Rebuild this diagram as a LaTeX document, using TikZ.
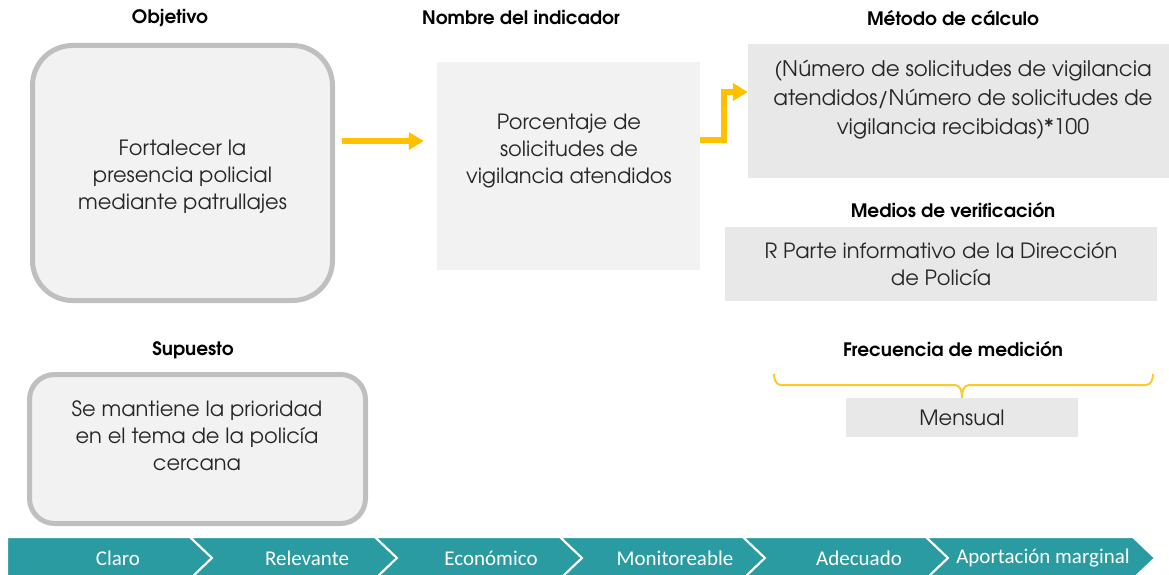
\documentclass[tikz,border=0pt]{standalone}
\usepackage{fontspec}
\setmainfont{TeX Gyre Adventor}
\newfontfamily\barfont{Carlito}
\usetikzlibrary{arrows.meta, positioning}
\definecolor{boxgray}{HTML}{F2F2F2}
\definecolor{cellgray}{HTML}{E8E8E8}
\definecolor{rimgray}{HTML}{BFBFBF}
\definecolor{arrowyellow}{HTML}{FFC000}
\definecolor{barteal}{HTML}{2A9BA0}
\tikzset{
  title/.style={font=\fontsize{18.5}{21}\selectfont\bfseries},
  txt/.style={font=\fontsize{21}{27}\selectfont, align=center, text=black!85},
  roundbox/.style={draw=rimgray, line width=5pt, fill=boxgray, inner sep=0pt},
  flatbox/.style={fill=cellgray, inner sep=0pt},
  flow/.style={-{Triangle[length=15pt,width=17pt]}, draw=arrowyellow, line width=6pt},
  braceline/.style={draw=arrowyellow!85!white, line width=2pt},
  chevron/.style={fill=barteal, draw=white, line width=2pt, line join=miter},
  barlabel/.style={font=\barfont\fontsize{21}{24}\selectfont, text=white},
}

\begin{document}
\begin{tikzpicture}[x=1pt, y=-1pt]
    \useasboundingbox (0,0) rectangle (1169,575);
    \clip (0,0) rectangle (1169,575);
    % titles
    \node [title](tobj) at (170,18) {Objetivo};
    \node [title](tind) at (521,18) {Nombre del indicador};
    \node [title](tcalc) at (953,18) {Método de cálculo};
    \node [title](tver) at (953,210) {Medios de verificación};
    \node [title](tfreq) at (953,349) {Frecuencia de medición};
    \node [title](tsup) at (193,350) {Supuesto};
    % boxes
    \node [roundbox, rounded corners=40pt, minimum width=300pt, minimum height=255pt](obj) at (182.5,173) {};
    \node [txt](objtxt) at (182.5,177) {Fortalecer la\\presencia policial\\mediante patrullajes};
    \node [flatbox, fill=boxgray, minimum width=263pt, minimum height=208pt](ind) at (568.5,166) {};
    \node [txt](indtxt) at (569,151) {Porcentaje de\\solicitudes de\\vigilancia atendidos};
    \node [flatbox, minimum width=421pt, minimum height=134pt](calc) at (958.5,111) {};
    \node [txt, font=\fontsize{21.4}{29}\selectfont](calctxt) at (963,100) {(Número de solicitudes de vigilancia\\atendidos/Número de solicitudes de\\vigilancia recibidas)*100};
    \node [flatbox, txt, minimum width=432pt, minimum height=74pt](ver) at (941,264) {R Parte informativo de la Dirección\\de Policía};
    \node [flatbox, txt, minimum width=232pt, minimum height=39pt](freq) at (962,417.5) {Mensual};
    \node [roundbox, rounded corners=25pt, minimum width=336pt, minimum height=149pt](sup) at (197.5,449) {};
    \node [txt](suptxt) at (197,436) {Se mantiene la prioridad\\en el tema de la policía\\cercana};
    % connectors
    \draw [flow] ([shift={(7pt,32pt)}]obj.east) -- ([shift={(-13pt,25pt)}]ind.west);
    \draw [flow] ([yshift=26pt]ind.east) -- ++(24,0) |- ([yshift=19pt]calc.west);
    % brace over Mensual
    \coordinate (bracel) at (774,374);
    \coordinate (bracer) at (1153,374);
    \coordinate (bracetip) at (freq.north);
    \draw [braceline] (bracel) to[out=-90, in=180] ++(7,11) -- ([xshift=-7pt]bracetip |- 0,385)
        to[out=0, in=90] (bracetip) to[out=90, in=180] ([xshift=7pt]bracetip |- 0,385)
        -- ([xshift=-7pt]bracer |- 0,385) to[out=0, in=-90] (bracer);
    % criteria bar
    \foreach \l/\r/\n/\c/\name [count=\i] in {7/190/0/118/Claro, 190/375/22/307/Relevante, 375/560/22/491/Económico, 560/743/22/675/Monitoreable, 743/926/22/859/Adecuado, 926/1133/22/1043/Aportación marginal} {
        \draw [chevron] (\l,537) -- (\r,537) -- (\r+22,558) -- (\r,579) -- (\l,579) -- (\l+\n,558) -- cycle;
        \node [barlabel](crit\i) at (\c,558) {\name};
    }
\end{tikzpicture}
\end{document}
